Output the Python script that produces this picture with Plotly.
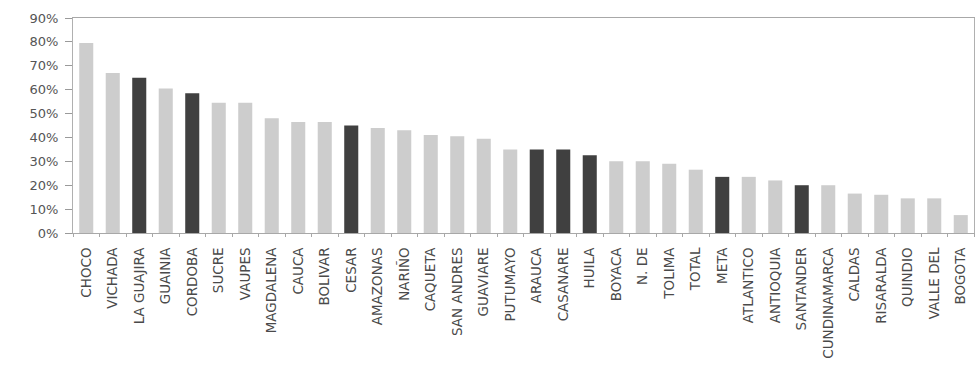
import plotly.graph_objects as go

categories = ["CHOCO", "VICHADA", "LA GUAJIRA", "GUAINIA", "CORDOBA", "SUCRE", "VAUPES",
              "MAGDALENA", "CAUCA", "BOLIVAR", "CESAR", "AMAZONAS", "NARIÑO", "CAQUETA",
              "SAN ANDRES", "GUAVIARE", "PUTUMAYO", "ARAUCA", "CASANARE", "HUILA", "BOYACA",
              "N. DE", "TOLIMA", "TOTAL", "META", "ATLANTICO", "ANTIOQUIA", "SANTANDER",
              "CUNDINAMARCA", "CALDAS", "RISARALDA", "QUINDIO", "VALLE DEL", "BOGOTA"]
values = [0.795, 0.67, 0.65, 0.605, 0.585, 0.545, 0.545, 0.48, 0.465, 0.465,
          0.45, 0.44, 0.43, 0.41, 0.405, 0.395, 0.35, 0.35, 0.35, 0.325,
          0.30, 0.30, 0.29, 0.265, 0.235, 0.235, 0.22, 0.20, 0.20, 0.165,
          0.16, 0.145, 0.145, 0.075]
highlight = ["LA GUAJIRA", "CORDOBA", "CESAR", "ARAUCA", "CASANARE", "HUILA", "META", "SANTANDER"]

colors = ["#404040" if c in highlight else "#cdcdcd" for c in categories]

fig = go.Figure(go.Bar(
    x=categories, y=values,
    marker=dict(color=colors, line=dict(width=0)),
))

fig.update_layout(
    width=977, height=368,
    margin=dict(l=73, r=3, t=18, b=135),
    plot_bgcolor="white", paper_bgcolor="white",
    bargap=0.47, showlegend=False,
    font=dict(family="DejaVu Sans", size=13, color="#4a4a4a"),
)
fig.update_xaxes(
    showline=True, linecolor="#a8a8a8", linewidth=1, mirror=True,
    ticks="outside", tickson="boundaries", ticklen=3, tickcolor="#a8a8a8",
    tickangle=-90, tickfont=dict(size=13.5, color="#4a4a4a"),
    ticklabelstandoff=8,
    showgrid=False,
)
fig.update_yaxes(
    range=[0, 0.9], dtick=0.1, tickformat=".0%",
    showline=True, linecolor="#b0b0b0", linewidth=1, mirror=True,
    ticks="outside", ticklen=7, tickcolor="#9a9a9a",
    tickfont=dict(size=13, color="#555555"),
    ticklabelstandoff=4,
    showgrid=False, zeroline=False,
)

fig.write_html("out.html")
